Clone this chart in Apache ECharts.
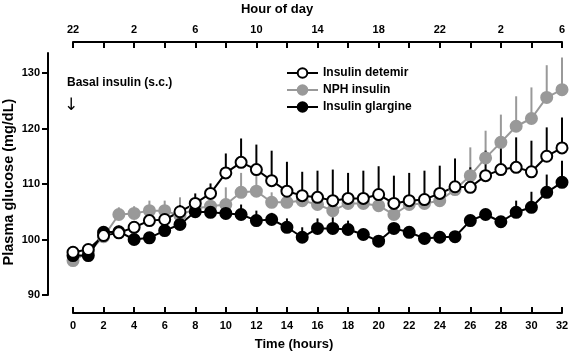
<!DOCTYPE html>
<html>
<head>
<meta charset="utf-8">
<script src="https://cdn.jsdelivr.net/npm/echarts@6/dist/echarts.min.js"></script>
<style>
html,body{margin:0;padding:0;background:#fff;}
#chart{width:570px;height:356px;}
</style>
</head>
<body>
<div id="chart"></div>
<script>
var hours = [0,1,2,3,4,5,6,7,8,9,10,11,12,13,14,15,16,17,18,19,20,21,22,23,24,25,26,27,28,29,30,31,32];
var hourOfDay = ['22','2','6','10','14','18','22','2','6'];// labels for 0,4,8..32 h
var yTicks = [90,100,110,120,130];
// mean values
var detemir = [97.7,98.2,100.7,101.2,102.2,103.4,103.6,105,106.5,108.3,112,113.9,112.6,110.6,108.7,107.9,107.6,107,107.4,107.4,108.1,106.5,107,107.2,108.3,109.5,109.4,111.5,112.6,113,112.2,115,116.5];
var nph = [96.2,97.7,100.5,104.5,104.7,105.2,105.2,104.3,105.6,106,106.3,108.5,108.7,106.7,106.7,107,106.3,105.2,106.5,106.5,106.1,104.5,106.3,106.5,107,109,111.5,114.7,117.5,120.4,121.8,125.6,127];
var glargine = [97.1,97.1,101.3,101.4,100,100.3,101.6,102.7,105,104.9,104.7,104.5,103.4,103.6,102.2,100.4,102,102,101.8,100.9,99.7,102,101.3,100.2,100.4,100.5,103.4,104.5,103.2,104.9,105.8,108.5,110.3];
// top of error bars
var detemirTop = [98.6,99,101.8,102.3,103.2,104.4,104.6,106.2,108.3,110.1,115.5,118.2,117.1,116,114,112.2,112.4,112.6,112,112.4,113.2,111.5,112,112.4,113.3,114.6,113,116,118.4,118.4,117.8,120.2,122];
var nphTop = [96.8,98.3,101.2,105.8,106,107,107,107.6,107,107,109.4,112,112,108.5,108.5,108.5,108,107,108,108,108,106.5,108,108,108.8,111.5,116.6,119.6,122.5,125.8,127.4,131.4,132.8];
var glargineTop = [97.6,97.6,101.8,102.5,100.6,101,102.2,103.4,105.8,105.6,105.6,106.3,105.2,104.8,103.8,102.2,103.8,104,103.4,101.5,100.3,102.8,102,100.8,101.2,101.2,104.3,105.3,104,107,108.6,111.7,114.2];

var FONT = '"Liberation Sans", Arial, Helvetica, sans-serif';
var GRAY = '#999999';

function pts(vals){
	var out = [];
	for (var i = 0; i < hours.length; i++) {
		out.push([hours[i], vals[i]]);
	}
	return out;
}
function bars(vals, tops){
	var out = [];
	for (var i = 0; i < hours.length; i++) {
		out.push([hours[i], vals[i], tops[i]]);
	}
	return out;
}
function errSeries(vals, tops, color){
	return {
		type : 'custom',
		silent : true,
		clip : false,
		renderItem : function(params, api) {
			var p0 = api.coord([api.value(0), api.value(1)]);
			var p1 = api.coord([api.value(0), api.value(2)]);
			return {
				type : 'line',
				shape : {x1 : p0[0], y1 : p0[1], x2 : p1[0], y2 : p1[1]},
				style : {stroke : color, lineWidth : 2}
			};
		},
		encode : {x : 0, y : [1, 2]},
		data : bars(vals, tops)
	};
}
function lineSeries(name, vals, lineColor, fill){
	return {
		name : name,
		type : 'line',
		clip : false,
		symbol : 'circle',
		symbolSize : 11,
		lineStyle : {color : lineColor, width : 2},
		itemStyle : {color : fill, borderColor : lineColor, borderWidth : 2},
		data : pts(vals)
	};
}
function label(text, x, y, size, rot){
	return {
		type : 'text',
		x : x, y : y,
		rotation : rot || 0,
		style : {text : text, fontFamily : FONT, fontWeight : 'bold', fontSize : size, fill : '#000', textAlign : 'center', textVerticalAlign : 'middle'}
	};
}

var mychart = echarts.init(document.getElementById('chart'));
var option = {
	animation : false,
	backgroundColor : '#fff',
	textStyle : {fontFamily : FONT},
	grid : {left : 73, right : 8, top : 53, bottom : 61, outerBoundsMode : 'none', containLabel : false},
	legend : {
		orient : 'vertical',
		left : 281,
		top : 62,
		itemGap : 5,
		itemWidth : 31,
		itemHeight : 12,
		textStyle : {fontFamily : FONT, fontWeight : 'bold', fontSize : 12, color : '#000'},
		data : ['Insulin detemir', 'NPH insulin', 'Insulin glargine']
	},
	xAxis : [{
		type : 'value',
		position : 'bottom',
		min : 0, max : 32, interval : 2,
		offset : 18,
		axisLine : {onZero : false, lineStyle : {color : '#000', width : 2}},
		axisTick : {inside : true, length : 6, lineStyle : {color : '#000', width : 2}},
		axisLabel : {margin : 7, fontFamily : FONT, fontWeight : 'bold', fontSize : 11, color : '#000'},
		splitLine : {show : false}
	}, {
		type : 'value',
		position : 'top',
		min : 0, max : 32, interval : 2,
		offset : 11,
		axisLine : {onZero : false, lineStyle : {color : '#000', width : 2}},
		axisTick : {inside : true, length : 6, lineStyle : {color : '#000', width : 2}},
		axisLabel : {
			margin : 7, fontFamily : FONT, fontWeight : 'bold', fontSize : 11, color : '#000',
			formatter : function(v) {
				return v % 4 == 0 ? hourOfDay[v / 4] : '';
			}
		},
		splitLine : {show : false}
	}],
	yAxis : {
		type : 'value',
		min : 90, max : 133.6,
		offset : 25,
		axisLine : {show : true, onZero : false, lineStyle : {color : '#000', width : 2}},
		axisTick : {show : true, length : 6, customValues : yTicks, lineStyle : {color : '#000', width : 2}},
		axisLabel : {margin : 8, customValues : yTicks, fontFamily : FONT, fontWeight : 'bold', fontSize : 11, color : '#000'},
		splitLine : {show : false}
	},
	graphic : [
		label('Hour of day', 277, 9, 13),
		label('Time (hours)', 294, 344, 13),
		label('Plasma glucose (mg/dL)', 9, 182, 14.5, Math.PI / 2),
		{
			type : 'text',
			x : 67, y : 83,
			style : {text : 'Basal insulin (s.c.)', fontFamily : FONT, fontWeight : 'bold', fontSize : 12, fill : '#000', textAlign : 'left', textVerticalAlign : 'middle'}
		}, {
			type : 'text',
			x : 71, y : 106,
			style : {text : '\u2193', fontFamily : '"DejaVu Sans", sans-serif', fontSize : 17, fill : '#000', textAlign : 'center', textVerticalAlign : 'middle'}
		}
	],
	series : [
		errSeries(nph, nphTop, GRAY),
		lineSeries('NPH insulin', nph, GRAY, GRAY),
		errSeries(glargine, glargineTop, '#000'),
		lineSeries('Insulin glargine', glargine, '#000', '#000'),
		errSeries(detemir, detemirTop, '#000'),
		lineSeries('Insulin detemir', detemir, '#000', '#fff')
	]
};
mychart.setOption(option);
</script>
</body>
</html>
